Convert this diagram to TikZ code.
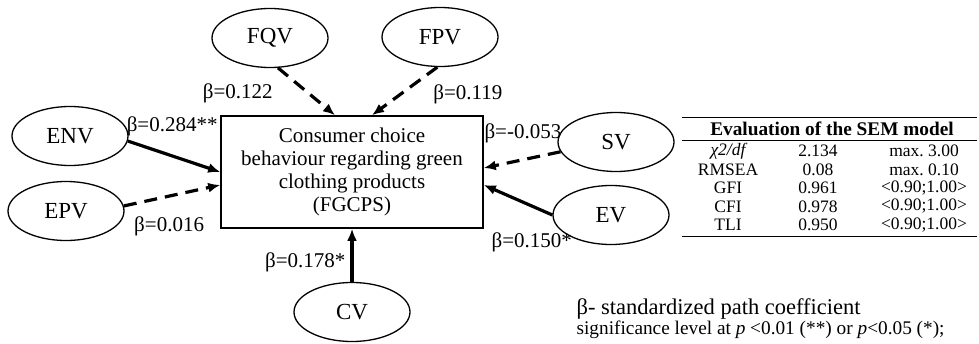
\documentclass[tikz,border=0pt]{standalone}
\usepackage{fontspec}
\setmainfont{Liberation Serif}
\usetikzlibrary{arrows.meta, shapes.geometric, positioning}

\begin{document}
\begin{tikzpicture}[x=1pt,y=1pt,->,>={Latex[length=12pt,width=10pt]},line width=3.2pt,
  factor/.style={ellipse,draw,line width=1.3pt,minimum width=116pt,minimum height=59pt,inner sep=0pt,font=\fontsize{23}{26}\selectfont},
  target/.style={rectangle,draw,line width=1.6pt,minimum width=262pt,minimum height=112pt,align=center,font=\fontsize{21}{23}\selectfont},
  coef/.style={inner sep=0pt,font=\fontsize{21}{24}\selectfont},
  dashedge/.style={dash pattern=on 13pt off 8pt},
  tab/.style={inner sep=0pt,font=\fontsize{17.5}{19}\selectfont}]
  \useasboundingbox (0,0) rectangle (979,-343);
  % model
  \node[target] (box) at (352,-172) {Consumer choice\\behaviour regarding green\\clothing products\\(FGCPS)};
  \node[factor] (fqv) at (270,-38) {FQV};
  \node[factor] (fpv) at (440,-37) {FPV};
  \node[factor] (env) at (70,-136) {ENV};
  \node[factor] (epv) at (66,-211) {EPV};
  \node[factor] (cv) at (352,-312) {CV};
  \node[factor] (sv) at (616,-142) {SV};
  \node[factor] (ev) at (611,-215) {EV};
  \path
    (fqv.-75) edge[dashedge] node[coef,pos=.53,left=34pt] {β=0.122} ([xshift=-17pt]box.north)
    (fpv.-95) edge[dashedge] node[coef,pos=.56,right=31pt] {β=0.119} ([xshift=20pt]box.north)
    (env.-5)  edge node[coef,pos=.48,above=18pt] {β=0.284**} (box.west)
    (epv.5)   edge[dashedge] node[coef,pos=.47,below=19pt] {β=0.016} ([yshift=-13pt]box.west)
    (cv.north) edge node[coef,pos=.36,left=5pt] {β=0.178*} (box.south)
    (sv.190)  edge[dashedge] node[coef,pos=.49,above=15pt] {β=-0.053} ([yshift=4pt]box.east)
    (ev.west) edge node[coef,pos=.3,below=25pt] {β=0.150*} ([yshift=-13pt]box.east);
  % fit table
  \draw[-,line width=1pt] (682,-117) -- (977,-117);
  \draw[-,line width=1pt] (682,-140) -- (977,-140);
  \draw[-,line width=1pt] (682,-236) -- (977,-236);
  \node[tab,font=\fontsize{19.3}{20}\selectfont\bfseries] (head) at (832,-129) {Evaluation of the SEM model};
  \foreach \lab/\val/\lim [count=\i] in {{\itshape χ2/df}/2.134/max.\ 3.00,RMSEA/0.08/max.\ 0.10,
      GFI/0.961/{<0.90;1.00>},CFI/0.978/{<0.90;1.00>},TLI/0.950/{<0.90;1.00>}}{
    \node[tab] (lab\i) at (728,{-151-18.5*(\i-1)}) {\lab};
    \node[tab] (val\i) at (818,{-151-18.5*(\i-1)}) {\val};
    \node[tab] (lim\i) at (924,{-151-18.5*(\i-1)}) {\lim};
  }
  % legend
  \node[coef,anchor=west,font=\fontsize{22.5}{24}\selectfont] (note1) at (575,-309) {β- standardized path coefficient};
  \node[coef,anchor=west,font=\fontsize{19.3}{22}\selectfont] (note2) at (575,-330) {significance level at \textit{p} <0.01 (**) or \textit{p}<0.05 (*);};
\end{tikzpicture}
\end{document}
